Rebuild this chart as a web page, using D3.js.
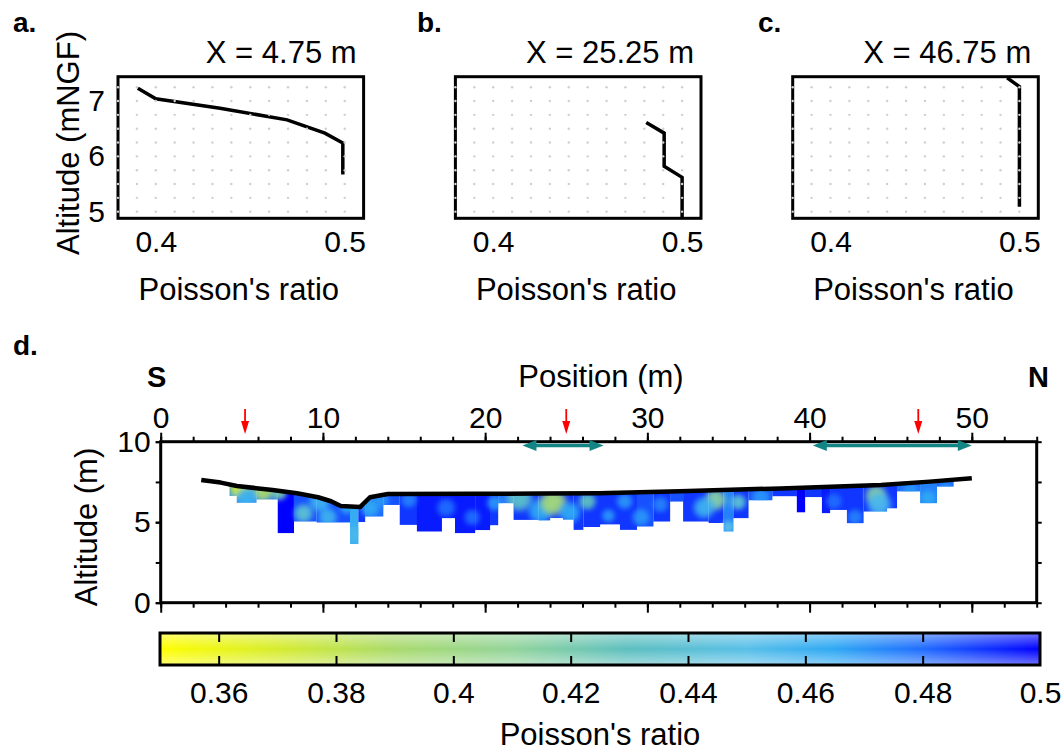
<!DOCTYPE html>
<html><head><meta charset="utf-8">
<script src="https://cdn.jsdelivr.net/npm/d3@7"></script>
<style>body{margin:0;background:#fff}svg{display:block}</style>
</head><body><svg id="c" width="1062" height="751"></svg>
<script>
// ---------- DATA ----------
const profileTitles = ["X = 4.75 m", "X = 25.25 m", "X = 46.75 m"];
const panelLetters = ["a.", "b.", "c."];
const profileA_nu  = [0.3905, 0.400, 0.434, 0.4695, 0.4895, 0.499, 0.499];
const profileA_alt = [7.23, 7.04, 6.87, 6.66, 6.42, 6.24, 5.67];
const profileB_nu  = [0.481, 0.4905, 0.4905, 0.500, 0.500];
const profileB_alt = [6.61, 6.42, 5.82, 5.62, 4.89];
const profileC_nu  = [0.4935, 0.500, 0.500];
const profileC_alt = [7.42, 7.26, 5.09];
const profileTicksX = [0.4, 0.5];
const profileTicksY = [5, 6, 7];
const profileGridNu = [0.38,0.39,0.40,0.41,0.42,0.43,0.44,0.45,0.46,0.47,0.48,0.49,0.50];
const profileGridAlt = [5,5.25,5.5,5.75,6,6.25,6.5,6.75,7,7.25];

const positionMajor = [0,10,20,30,40,50];
const positionMinor = [0,2,4,6,8,10,12,14,16,18,20,22,24,26,28,30,32,34,36,38,40,42,44,46,48,50,52,54];
const altitudeMajor = [0,5,10];
const altitudeMinor = [0,2.5,5,7.5,10];

const surfaceX   = [2.5, 3.7, 4.7, 6.9, 8.4, 9.7, 10.5, 11.1, 12.3, 12.9, 14.0, 19.3, 23.4, 27.0, 32.0, 38.2, 44.4, 47.4, 50.0];
const surfaceAlt = [7.62, 7.46, 7.25, 7.0, 6.8, 6.55, 6.3, 6.0, 5.95, 6.55, 6.75, 6.76, 6.78, 6.8, 6.92, 7.1, 7.31, 7.52, 7.73];

const colStart  = [4.23,4.68,5.9,7.2,8.2,9.6,11.67,12.18,12.6,13.72,14.72,15.78,17.32,18.14,19.38,20.3,20.8,21.74,23.28,24.0,24.8,25.44,26.05,27.08,28.3,29.35,30.37,31.4,32.2,33.76,34.69,35.3,36.23,37.7,39.2,39.72,40.75,41.26,42.29,43.32,44.76,45.38,46.81,47.84];
const colEnd    = [4.68,5.9,7.2,8.2,9.6,11.67,12.18,12.6,13.72,14.72,15.78,17.32,18.14,19.38,20.3,20.8,21.74,23.28,24.0,24.8,25.44,26.05,27.08,28.3,29.35,30.37,31.4,32.2,33.76,34.69,35.3,36.23,37.7,39.2,39.72,40.75,41.26,42.29,43.32,44.76,45.38,46.81,47.84,48.87];
const colBottom = [6.63,6.2,6.4,4.31,5.03,4.97,3.64,5.0,5.34,6.07,4.83,4.41,5.24,4.31,4.5,4.8,6.17,5.14,5.1,5.25,5.15,4.52,4.7,4.85,4.52,4.72,5.03,6.27,5.03,4.95,4.41,5.24,6.35,6.6,5.6,6.55,5.55,5.76,4.93,5.65,5.85,6.9,6.17,7.2];
const colValue  = [0.47,0.475,0.48,0.5,0.485,0.485,0.462,0.49,0.48,0.485,0.49,0.495,0.495,0.495,0.495,0.49,0.48,0.49,0.49,0.49,0.49,0.49,0.49,0.49,0.49,0.485,0.49,0.485,0.49,0.49,0.475,0.49,0.485,0.49,0.5,0.49,0.495,0.49,0.49,0.49,0.49,0.48,0.475,0.48];

const anomX      = [4.9,6.3,7.3,5.3,8.8,9.8,10.3,11.5,11.9,12.9,13.6,15.3,17.6,19.2,20.6,22.1,23.4,24.2,25.2,26.3,27.6,28.6,29.6,30.8,34.2,33.5,35.6,35.0,37.0,41.5,42.8,44.1,44.3,46.2,47.3,48.4];
const anomAlt    = [7.1,6.95,6.85,6.5,5.55,6.3,5.3,6.0,4.2,5.9,6.4,6.4,5.9,5.3,6.2,6.5,5.7,6.25,5.6,6.3,5.4,6.3,5.3,6.1,6.4,5.9,6.25,4.7,6.55,6.3,5.3,6.65,6.1,7.0,6.5,7.1];
const anomValue  = [0.37,0.39,0.42,0.46,0.44,0.46,0.46,0.465,0.455,0.465,0.47,0.475,0.48,0.48,0.47,0.435,0.465,0.395,0.465,0.43,0.47,0.47,0.47,0.475,0.415,0.46,0.44,0.45,0.47,0.48,0.475,0.415,0.455,0.47,0.465,0.47];
const anomRadius = [0.8,0.8,0.6,0.8,0.7,0.8,0.7,0.6,0.7,0.7,0.6,0.6,0.7,0.6,0.6,1.0,0.9,1.0,0.8,0.65,0.5,0.6,0.65,0.6,0.8,0.8,0.6,0.5,0.7,0.6,0.6,0.8,0.9,0.6,0.6,0.45];

const markerX = [5.2, 25.0, 46.7];
const zoneStart = [22.3, 40.2];
const zoneEnd   = [27.3, 50.0];

const cbTicks  = [0.36,0.38,0.40,0.42,0.44,0.46,0.48,0.50];
const cbLabels = ["0.36","0.38","0.4","0.42","0.44","0.46","0.48","0.5"];
const cbStops  = [0.35, 0.37, 0.39, 0.41, 0.43, 0.45, 0.465, 0.48, 0.50];
const cbColors = ["#ffff00","#d6ec2e","#a9da6c","#92d49a","#5cbfc0","#58bfe8","#2ea8f4","#1f6cff","#0000ff"];

// ---------- DRAWING ----------
const FONT = '"Liberation Sans", Arial, Helvetica, sans-serif';
const FS = 30;
const svg = d3.select("#c");
const defs = svg.append("defs");
const color = d3.scaleLinear().domain(cbStops).range(cbColors).clamp(true);

// profile panels a-c
const pLeft = [118, 455.4, 792.7], pW = 245.6, pTop = 76.7, pH = 141.6;
const letterX = [13, 417, 758];
const profiles = [[profileA_nu, profileA_alt],[profileB_nu, profileB_alt],[profileC_nu, profileC_alt]];
profiles.forEach((p, i) => {
  const x = d3.scaleLinear().domain([0.38, 0.51]).range([pLeft[i], pLeft[i] + pW]);
  const y = d3.scaleLinear().domain([4.88, 7.44]).range([pTop + pH, pTop]);
  const g = svg.append("g");
  g.append("path").datum(d3.zip(p[0], p[1]))
    .attr("d", d3.line().x(d => x(d[0])).y(d => y(d[1])))
    .attr("fill", "none").attr("stroke", "#000").attr("stroke-width", 3.5);
  g.append("rect").attr("x", x(0.38)).attr("y", y(7.44))
    .attr("width", x(0.51) - x(0.38)).attr("height", y(4.88) - y(7.44))
    .attr("fill", "none").attr("stroke", "#000").attr("stroke-width", 3);
  const pts = [];
  profileGridNu.forEach(a => profileGridAlt.forEach(b => pts.push([a, b])));
  g.selectAll("circle.gd").data(pts).join("circle").attr("class", "gd")
    .attr("cx", d => x(d[0])).attr("cy", d => y(d[1])).attr("r", 1.2).attr("fill", "#cfcfcf");
  const ax = g.append("g").attr("transform", `translate(0,${pTop + pH})`)
    .call(d3.axisBottom(x).tickValues(profileTicksX).tickSize(0).tickPadding(12.4).tickFormat(d3.format(".1f")));
  ax.select(".domain").remove();
  ax.selectAll("text").attr("font-size", FS).attr("font-family", FONT).attr("fill", "#000");
  if (i === 0) {
    const ay = g.append("g").attr("transform", `translate(${pLeft[i]},0)`)
      .call(d3.axisLeft(y).tickValues(profileTicksY).tickSize(0).tickPadding(13).tickFormat(d3.format("d")));
    ay.select(".domain").remove();
    ay.selectAll("text").attr("font-size", FS).attr("font-family", FONT).attr("fill", "#000");
    g.append("text").attr("transform", "translate(79,143) rotate(-90)").attr("text-anchor", "middle")
      .attr("font-size", 31).attr("font-family", FONT).text("Altitude (mNGF)");
  }
  g.append("text").attr("x", pLeft[i] + pW - 7).attr("y", 63).attr("text-anchor", "end")
    .attr("font-size", 31).attr("font-family", FONT).text(profileTitles[i]);
  g.append("text").attr("x", pLeft[i] + pW / 2 - 2).attr("y", 300).attr("text-anchor", "middle")
    .attr("font-size", 31).attr("font-family", FONT).text("Poisson's ratio");
  g.append("text").attr("x", letterX[i]).attr("y", 32).attr("font-size", 28).attr("font-weight", "bold")
    .attr("font-family", FONT).text(panelLetters[i]);
});

// panel d
const X = d3.scaleLinear().domain([0, 54]).range([160.7, 1036.7]);
const Y = d3.scaleLinear().domain([0, 10]).range([602.7, 441.7]);
const gd = svg.append("g");

defs.append("clipPath").attr("id", "clipSurf").append("path")
  .datum(d3.zip(surfaceX, surfaceAlt))
  .attr("d", d3.area().x(d => X(d[0])).y0(Y(0)).y1(d => Y(d[1])));
const cc = defs.append("clipPath").attr("id", "clipCols");
const cols = d3.range(colStart.length).map(i => ({x0: colStart[i], x1: colEnd[i], b: colBottom[i], v: colValue[i]}));
cc.selectAll("rect").data(cols).join("rect")
  .attr("x", d => X(d.x0)).attr("width", d => X(d.x1) - X(d.x0) + 0.3)
  .attr("y", Y(9)).attr("height", d => Y(d.b) - Y(9));

const anoms = d3.range(anomX.length).map(i => ({x: anomX[i], a: anomAlt[i], v: anomValue[i], r: anomRadius[i], id: "ag" + i}));
anoms.forEach(d => {
  const rg = defs.append("radialGradient").attr("id", d.id);
  rg.append("stop").attr("offset", "0%").attr("stop-color", color(d.v)).attr("stop-opacity", 1);
  rg.append("stop").attr("offset", "55%").attr("stop-color", color(d.v)).attr("stop-opacity", 0.9);
  rg.append("stop").attr("offset", "100%").attr("stop-color", color(d.v)).attr("stop-opacity", 0);
});
defs.append("filter").attr("id", "soft").attr("x", "-10%").attr("y", "-30%").attr("width", "120%").attr("height", "160%")
  .append("feGaussianBlur").attr("stdDeviation", 2.2);

const tomo = gd.append("g").attr("clip-path", "url(#clipSurf)")
  .append("g").attr("clip-path", "url(#clipCols)");
tomo.selectAll("rect").data(cols).join("rect")
  .attr("x", d => X(d.x0)).attr("width", d => X(d.x1) - X(d.x0) + 0.3)
  .attr("y", Y(9)).attr("height", d => Y(d.b) - Y(9))
  .attr("fill", d => color(d.v));
tomo.append("g").attr("filter", "url(#soft)").selectAll("circle").data(anoms).join("circle")
  .attr("cx", d => X(d.x)).attr("cy", d => Y(d.a))
  .attr("r", d => X(d.r) - X(0)).attr("fill", d => `url(#${d.id})`);

gd.append("path").datum(d3.zip(surfaceX, surfaceAlt))
  .attr("d", d3.line().x(d => X(d[0])).y(d => Y(d[1])))
  .attr("fill", "none").attr("stroke", "#000").attr("stroke-width", 4.5).attr("stroke-linejoin", "round");

function styleAxis(a) {
  a.select(".domain").remove();
  a.selectAll("line").attr("stroke", "#000").attr("stroke-width", 2);
  a.selectAll("text").attr("font-size", FS).attr("font-family", FONT).attr("fill", "#000");
}
styleAxis(gd.append("g").attr("transform", `translate(0,${Y(10)})`)
  .call(d3.axisTop(X).tickValues(positionMinor).tickSize(5).tickFormat("")));
styleAxis(gd.append("g").attr("transform", `translate(0,${Y(10)})`)
  .call(d3.axisTop(X).tickValues(positionMajor).tickSize(9).tickPadding(4.7).tickFormat(d3.format("d"))));
styleAxis(gd.append("g").attr("transform", `translate(0,${Y(0)})`)
  .call(d3.axisBottom(X).tickValues(positionMinor).tickSize(5).tickFormat("")));
styleAxis(gd.append("g").attr("transform", `translate(0,${Y(0)})`)
  .call(d3.axisBottom(X).tickValues(positionMajor).tickSize(10).tickFormat("")));
styleAxis(gd.append("g").attr("transform", `translate(${X(0)},0)`)
  .call(d3.axisLeft(Y).tickValues(altitudeMinor).tickSize(5).tickFormat("")));
styleAxis(gd.append("g").attr("transform", `translate(${X(0)},0)`)
  .call(d3.axisLeft(Y).tickValues(altitudeMajor).tickSize(5).tickPadding(5).tickFormat(d3.format("d"))));
styleAxis(gd.append("g").attr("transform", `translate(${X(54)},0)`)
  .call(d3.axisRight(Y).tickValues(altitudeMinor).tickSize(5).tickFormat("")));
gd.append("rect").attr("x", X(0)).attr("y", Y(10)).attr("width", X(54) - X(0)).attr("height", Y(0) - Y(10))
  .attr("fill", "none").attr("stroke", "#000").attr("stroke-width", 3);

const red = gd.append("g");
markerX.forEach(m => {
  red.append("line").attr("x1", X(m)).attr("x2", X(m)).attr("y1", 409).attr("y2", 424)
    .attr("stroke", "#ff0000").attr("stroke-width", 1.8);
  red.append("path").attr("d", `M${X(m) - 4},421 L${X(m) + 4},421 L${X(m)},434 Z`).attr("fill", "#ff0000");
});
const teal = "#138585";
zoneStart.forEach((s, i) => {
  const a = X(s), b = X(zoneEnd[i]), yy = 445.5;
  gd.append("line").attr("x1", a + 8).attr("x2", b - 8).attr("y1", yy).attr("y2", yy)
    .attr("stroke", teal).attr("stroke-width", 3.5);
  gd.append("path").attr("d", `M${a},${yy} L${a + 14},${yy - 5.5} L${a + 14},${yy + 5.5} Z`).attr("fill", teal);
  gd.append("path").attr("d", `M${b},${yy} L${b - 14},${yy - 5.5} L${b - 14},${yy + 5.5} Z`).attr("fill", teal);
});

gd.append("text").attr("x", 13).attr("y", 355).attr("font-size", 28).attr("font-weight", "bold").attr("font-family", FONT).text("d.");
gd.append("text").attr("x", 147).attr("y", 387).attr("font-size", 29).attr("font-weight", "bold").attr("font-family", FONT).text("S");
gd.append("text").attr("x", 1028).attr("y", 387).attr("font-size", 29).attr("font-weight", "bold").attr("font-family", FONT).text("N");
gd.append("text").attr("x", 601).attr("y", 387).attr("text-anchor", "middle").attr("font-size", 31).attr("font-family", FONT).text("Position (m)");
gd.append("text").attr("transform", "translate(97,527) rotate(-90)").attr("text-anchor", "middle")
  .attr("font-size", 31).attr("font-family", FONT).text("Altitude  (m)");

// colorbar
const C = d3.scaleLinear().domain([0.35, 0.5]).range([160, 1040]);
const cbTop = 633, cbBot = 665;
const lg = defs.append("linearGradient").attr("id", "cbGrad");
cbStops.forEach((s, i) => lg.append("stop").attr("offset", ((s - 0.35) / 0.15 * 100) + "%").attr("stop-color", cbColors[i]));
const sh = defs.append("linearGradient").attr("id", "cbShade").attr("x1", 0).attr("x2", 0).attr("y1", 0).attr("y2", 1);
sh.append("stop").attr("offset", "0%").attr("stop-color", "#fff").attr("stop-opacity", 0.45);
sh.append("stop").attr("offset", "50%").attr("stop-color", "#fff").attr("stop-opacity", 0);
sh.append("stop").attr("offset", "100%").attr("stop-color", "#fff").attr("stop-opacity", 0.45);
const gc = svg.append("g");
gc.append("rect").attr("x", C(0.35)).attr("y", cbTop).attr("width", C(0.5) - C(0.35)).attr("height", cbBot - cbTop).attr("fill", "url(#cbGrad)");
gc.append("rect").attr("x", C(0.35)).attr("y", cbTop).attr("width", C(0.5) - C(0.35)).attr("height", cbBot - cbTop).attr("fill", "url(#cbShade)");
const inner = cbTicks.slice(0, -1);
styleAxis(gc.append("g").attr("transform", `translate(0,${cbTop})`).call(d3.axisBottom(C).tickValues(inner).tickSize(9).tickFormat("")));
styleAxis(gc.append("g").attr("transform", `translate(0,${cbBot})`).call(d3.axisTop(C).tickValues(inner).tickSize(9).tickFormat("")));
styleAxis(gc.append("g").attr("transform", `translate(0,${cbBot})`).call(d3.axisBottom(C).tickValues(cbTicks).tickSize(0).tickPadding(16.7).tickFormat((d, i) => cbLabels[i])));
gc.append("rect").attr("x", C(0.35)).attr("y", cbTop).attr("width", C(0.5) - C(0.35)).attr("height", cbBot - cbTop)
  .attr("fill", "none").attr("stroke", "#000").attr("stroke-width", 3);
gc.append("text").attr("x", 600).attr("y", 745).attr("text-anchor", "middle").attr("font-size", 31).attr("font-family", FONT).text("Poisson's ratio");
</script></body></html>
